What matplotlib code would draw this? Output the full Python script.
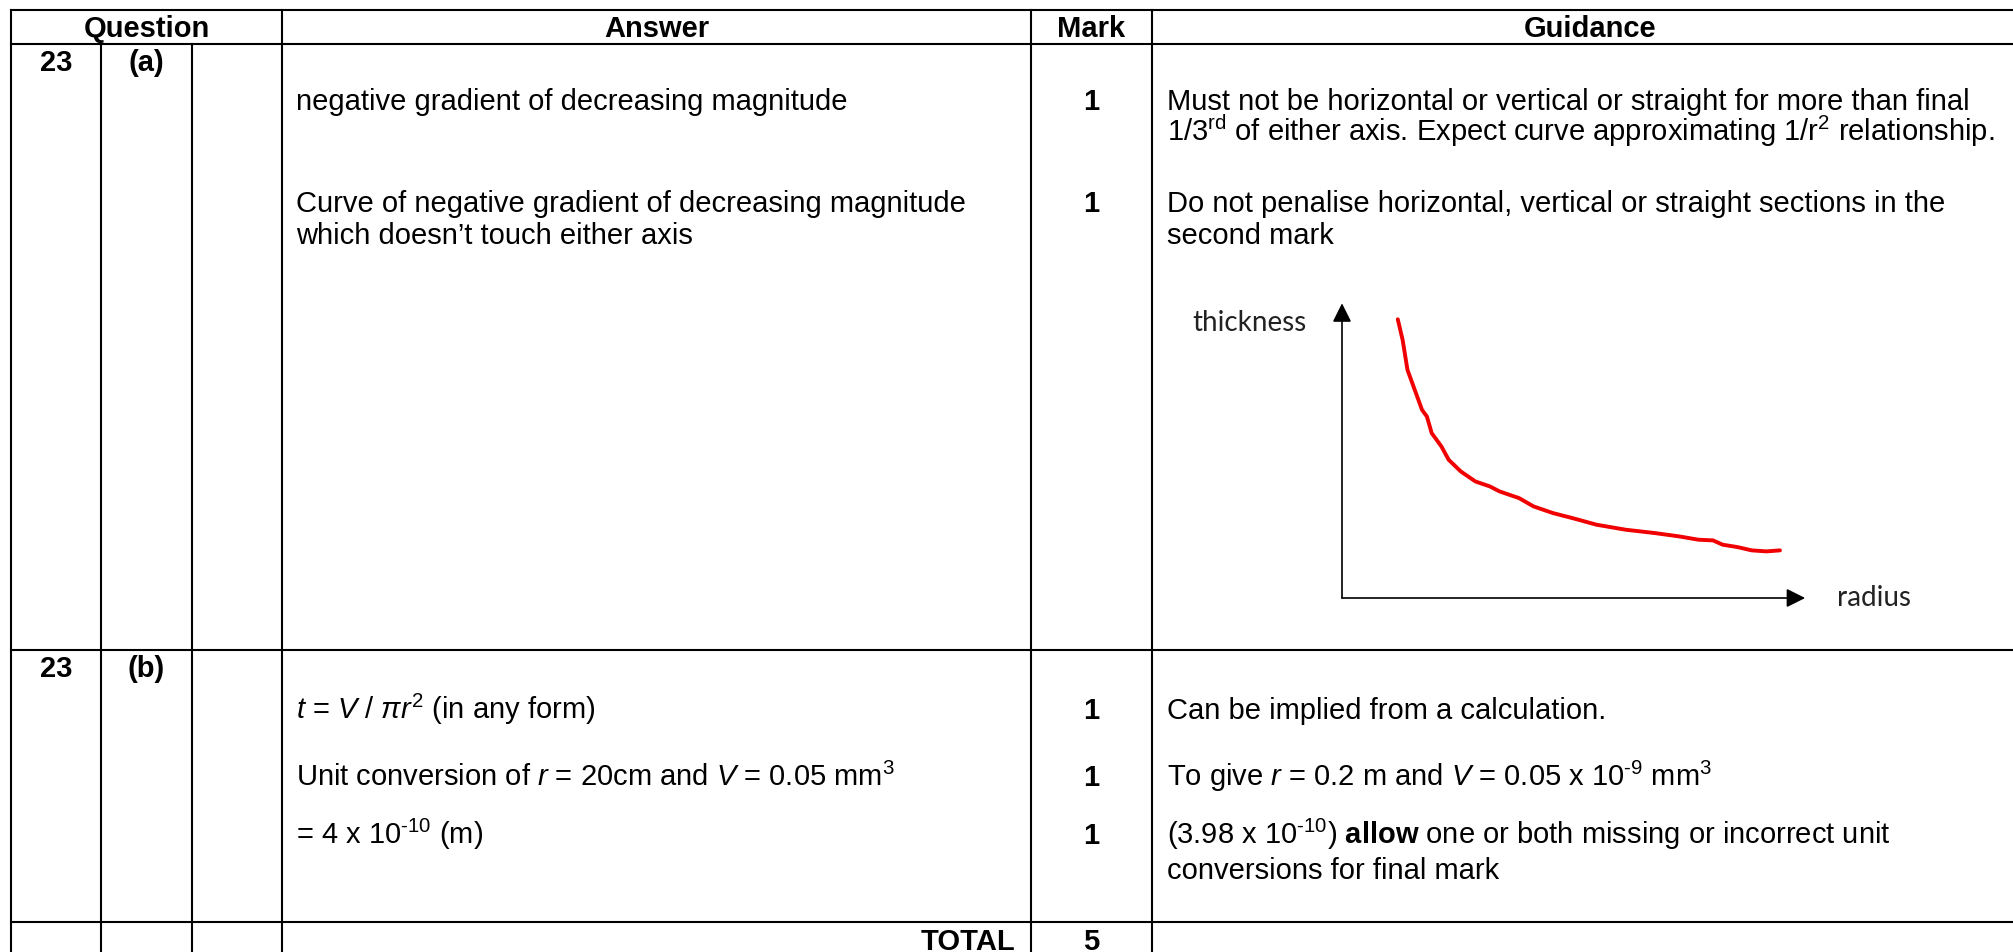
import matplotlib
matplotlib.use('agg')
import matplotlib.pyplot as plt

#------------------------------------------------------------------------------
# SETTINGS
#------------------------------------------------------------------------------

W, H = 2013, 952
DPI = 100
fontsize = 21
gridlw = 1.5

plt.rcParams['font.family'] = 'Liberation Sans'
plt.rcParams['mathtext.fontset'] = 'custom'
plt.rcParams['mathtext.rm'] = 'Liberation Sans'
plt.rcParams['mathtext.it'] = 'Liberation Sans:italic'
plt.rcParams['mathtext.bf'] = 'Liberation Sans:bold'

#------------------------------------------------------------------------------
# DATA: table content
#------------------------------------------------------------------------------

headers = ['Question', 'Answer', 'Mark', 'Guidance']
question_no = ['23', '23']
parts = ['(a)', '(b)']

answers_a = ['negative gradient of decreasing magnitude',
             '',
             'Curve of negative gradient of decreasing magnitude',
             'which doesn\u2019t touch either axis']
marks_a = ['1', '', '1', '']
guidance_a = ['Must not be horizontal or vertical or straight for more than final',
              r'1/$\mathrm{3}^{\mathrm{rd}}$ of either axis. Expect curve approximating 1/$\mathrm{r}^{\mathrm{2}}$ relationship.',
              'Do not penalise horizontal, vertical or straight sections in the',
              'second mark']

answers_b = [r'$\mathit{t}$ = $\mathit{V}$ / $\mathit{\pi r}^{\mathrm{2}}$ (in any form)',
             r'Unit conversion of $\mathit{r}$ = 20cm and $\mathit{V}$ = 0.05 $\mathrm{mm}^{\mathrm{3}}$',
             r'= 4 x $\mathrm{10}^{\mathrm{\u2010' + '10}}$ (m)',
             '']
marks_b = ['1', '1', '1', '']
guidance_b = ['Can be implied from a calculation.',
              r'To give $\mathit{r}$ = 0.2 m and $\mathit{V}$ = 0.05 x $\mathrm{10}^{\mathrm{' + '\u2010' + r'9}}$ $\mathrm{mm}^{\mathrm{3}}$',
              r'(3.98 x $\mathrm{10}^{\mathrm{' + '\u2010' + r'10}}$) $\mathbf{allow}$ one or both missing or incorrect unit',
              'conversions for final mark']
answers_b[2] = r'= 4 x $\mathrm{10}^{\mathrm{' + '\u2010' + r'10}}$ (m)'

total_label = 'TOTAL'
total_mark = '5'

# sketch graph in the guidance cell (arbitrary units)
radius = [1.15, 1.25, 1.35, 1.50, 1.65, 1.75, 1.85, 2.05, 2.20, 2.45, 2.75, 3.05,
          3.25, 3.65, 3.95, 4.35, 4.75, 5.25, 5.85, 6.45, 6.95, 7.35, 7.65, 7.85,
          8.15, 8.45, 8.75, 9.03]
thickness = [8.37, 7.75, 6.85, 6.25, 5.65, 5.45, 4.95, 4.55, 4.15, 3.80, 3.50, 3.35,
             3.20, 3.00, 2.75, 2.55, 2.40, 2.20, 2.05, 1.95, 1.85, 1.75, 1.73, 1.60,
             1.53, 1.43, 1.40, 1.43]
axis_len = [9.55, 8.85]
axis_labels = ['radius', 'thickness']

#------------------------------------------------------------------------------
# LAYOUT (pixels)
#------------------------------------------------------------------------------

col_x = [11, 101, 192, 282, 1031, 1152, 2028]
row_y = [10, 44, 650, 922, H]
base_a = [110, 141, 212, 244]
base_b = [719, 786, 844, 879]
pad = 14

#------------------------------------------------------------------------------
# PLOT: table
#------------------------------------------------------------------------------

fig = plt.figure(figsize=(W / DPI, H / DPI), dpi=DPI)
fig.patch.set_facecolor('white')
ax = fig.add_axes([0, 0, 1, 1])
ax.set_xlim(0, W)
ax.set_ylim(H, 0)
ax.axis('off')

for y in row_y[:-1]:
    ax.plot([col_x[0], W], [y, y], color='black', lw=gridlw, solid_capstyle='projecting')
for i, x in enumerate(col_x[:-1]):
    y0 = row_y[1] if i in (1, 2) else row_y[0]
    ax.plot([x, x], [y0, H], color='black', lw=gridlw, solid_capstyle='projecting')

# header row
hy = 37
head_x = [(col_x[0] + col_x[3]) / 2, (col_x[3] + col_x[4]) / 2,
          (col_x[4] + col_x[5]) / 2, (col_x[5] + col_x[6]) / 2]
for label, x in zip(headers, head_x):
    ax.text(x, hy, label, ha='center', va='baseline', fontsize=fontsize, fontweight='bold')

# question rows
for k, (q, p) in enumerate(zip(question_no, parts)):
    y = row_y[1 + k] + 27
    ax.text((col_x[0] + col_x[1]) / 2, y, q, ha='center', va='baseline',
            fontsize=fontsize, fontweight='bold')
    ax.text((col_x[1] + col_x[2]) / 2, y, p, ha='center', va='baseline',
            fontsize=fontsize, fontweight='bold')

mark_x = (col_x[4] + col_x[5]) / 2
for answers, marks, guidance, bases in [(answers_a, marks_a, guidance_a, base_a),
                                        (answers_b, marks_b, guidance_b, base_b)]:
    for a, m, g, y in zip(answers, marks, guidance, bases):
        if a:
            ax.text(col_x[3] + pad, y, a, ha='left', va='baseline', fontsize=fontsize)
        if m:
            ax.text(mark_x, y, m, ha='center', va='baseline', fontsize=fontsize,
                    fontweight='bold')
        if g:
            ax.text(col_x[5] + 15, y, g, ha='left', va='baseline', fontsize=fontsize)

# total row
ty = row_y[3] + 28
ax.text(col_x[4] - 16, ty, total_label, ha='right', va='baseline', fontsize=fontsize,
        fontweight='bold')
ax.text(mark_x, ty, total_mark, ha='center', va='baseline', fontsize=fontsize,
        fontweight='bold')

#------------------------------------------------------------------------------
# PLOT: sketch graph
#------------------------------------------------------------------------------

gx0, gx1, gy0, gy1 = 1180, 1935, 280, 640   # inset box (pixels)
ox, oy = 1342, 598                          # origin (pixels)
ux, uy = 48.5, 33.3                         # pixels per unit

ax2 = fig.add_axes([gx0 / W, (H - gy1) / H, (gx1 - gx0) / W, (gy1 - gy0) / H])
ax2.set_xlim((gx0 - ox) / ux, (gx1 - ox) / ux)
ax2.set_ylim((oy - gy1) / uy, (oy - gy0) / uy)
ax2.axis('off')

arrow = dict(arrowstyle='-|>,head_length=0.6,head_width=0.3', color='black', lw=1.2,
             mutation_scale=19, shrinkA=0, shrinkB=0)
ax2.annotate('', xy=(axis_len[0], 0), xytext=(0, 0), arrowprops=arrow)
ax2.annotate('', xy=(0, axis_len[1]), xytext=(0, 0), arrowprops=arrow)

ax2.plot(radius, thickness, color='#f00000', lw=2.8, solid_capstyle='round',
         solid_joinstyle='round')

ax2.text(axis_len[0] + 0.65, 0, axis_labels[0], ha='left', va='center',
         fontsize=20, family='Lato', color='#222222')
ax2.text(-0.72, 8.25, axis_labels[1], ha='right', va='center',
         fontsize=20, family='Lato', color='#222222')

plt.savefig('out.png', dpi=DPI, facecolor='white')
plt.close(fig)
print('** END')
